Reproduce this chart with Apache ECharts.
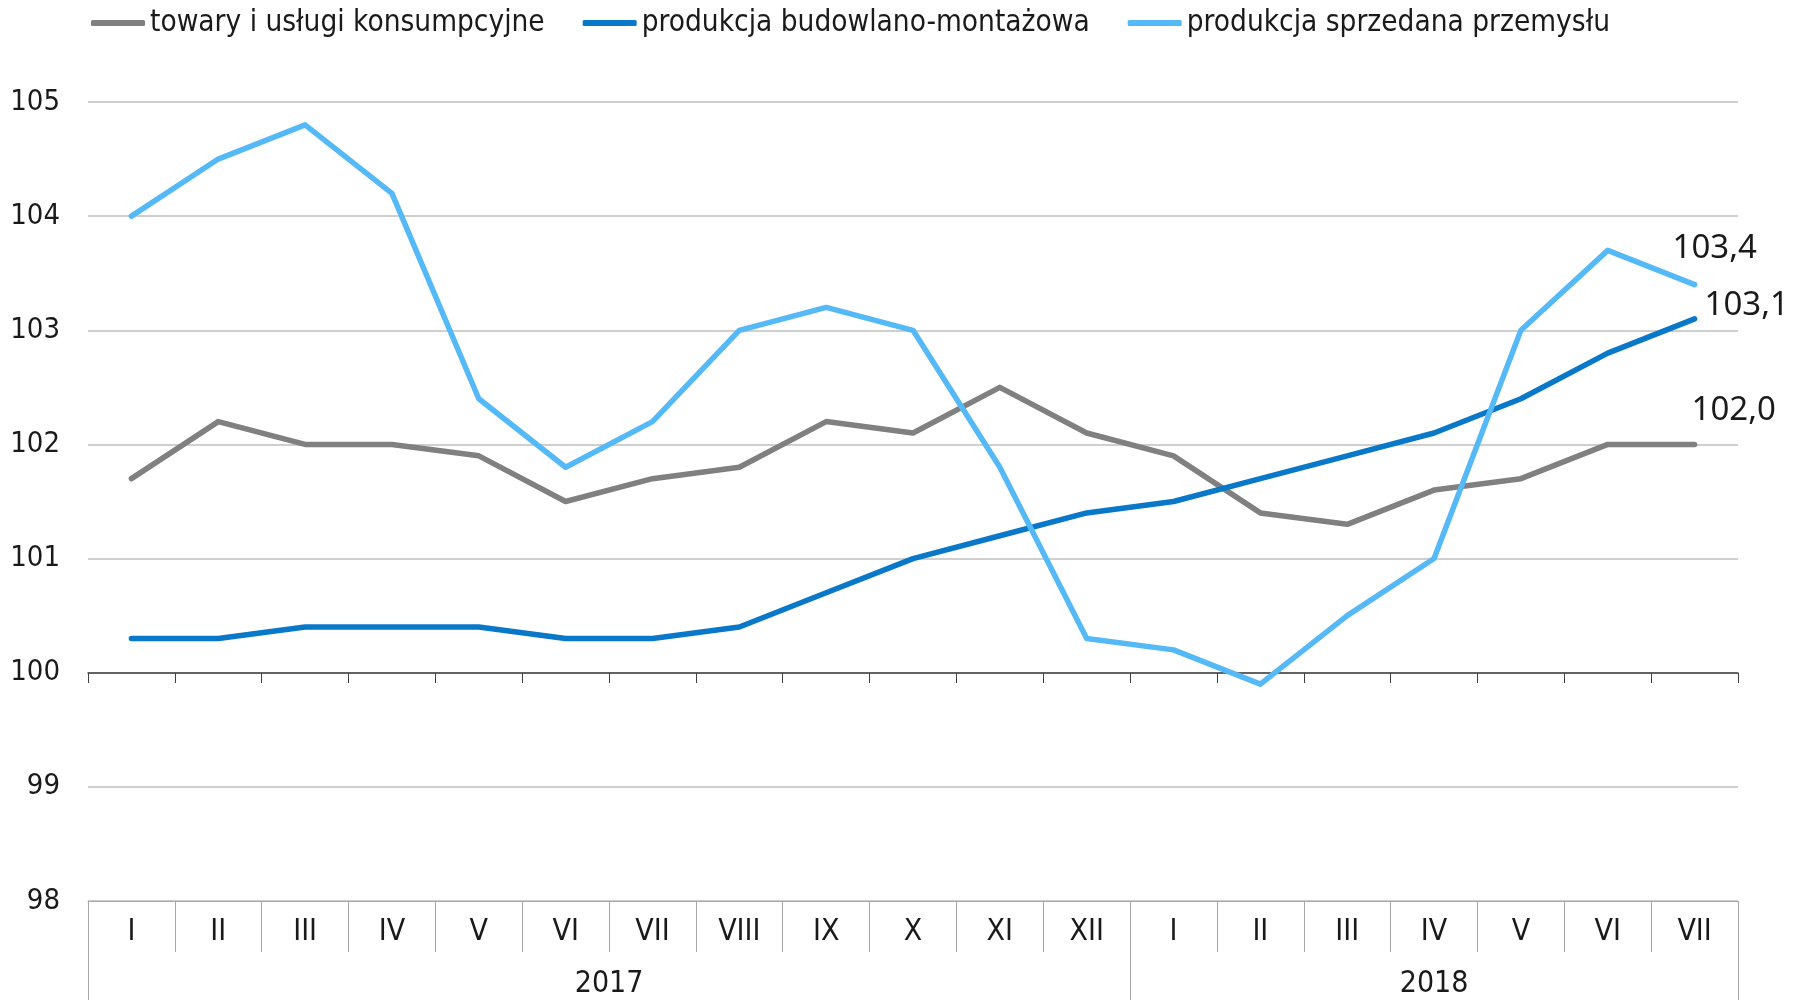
<!DOCTYPE html>
<html>
<head>
<meta charset="utf-8">
<script src="https://cdn.jsdelivr.net/npm/echarts@6/dist/echarts.min.js"></script>
<style>
html, body { margin: 0; padding: 0; background: #fff; }
#main { width: 1810px; height: 1000px; }
</style>
</head>
<body>
<div id="main"></div>
<script>
// dane
var months = ['I','II','III','IV','V','VI','VII','VIII','IX','X','XI','XII','I','II','III','IV','V','VI','VII'];
var years = ['2017', '2018'];
var yearCenters = [6, 15.5];   // srodki grup lat w jednostkach miesiecy
var yearBounds = [0, 12, 19];
var yTicks = [98, 99, 100, 101, 102, 103, 104, 105];

var towary = [101.7, 102.2, 102.0, 102.0, 101.9, 101.5, 101.7, 101.8, 102.2, 102.1, 102.5, 102.1, 101.9, 101.4, 101.3, 101.6, 101.7, 102.0, 102.0];
var budowlana = [100.3, 100.3, 100.4, 100.4, 100.4, 100.3, 100.3, 100.4, 100.7, 101.0, 101.2, 101.4, 101.5, 101.7, 101.9, 102.1, 102.4, 102.8, 103.1];
var przemysl = [104.0, 104.5, 104.8, 104.2, 102.4, 101.8, 102.2, 103.0, 103.2, 103.0, 101.8, 100.3, 100.2, 99.9, 100.5, 101.0, 103.0, 103.7, 103.4];

var names = ['towary i usługi konsumpcyjne', 'produkcja budowlano-montażowa', 'produkcja sprzedana przemysłu'];

var condensed = '"DejaVu Sans Condensed", "DejaVu Sans", sans-serif';

var myChart = echarts.init(document.getElementById('main'));

function fmt(p) {
    return p.value.toFixed(1).replace('.', ',');
}

// linie podzialu lat (co 0.5 -> 39 linii)
var splitColors = [];
for (var i = 0; i <= 38; i++) {
    splitColors.push(yearBounds.indexOf(i / 2) >= 0 ? '#a6a6a6' : 'rgba(0,0,0,0)');
}

var L = 88, R = 72;
var endLbl = { fontFamily: '"Noto Sans", sans-serif', fontSize: 33, color: '#1a1a1a' };

option = {
    animation: false,
    legend: {
        left: 86,
        top: 3,
        itemWidth: 54,
        itemHeight: 6,
        itemGap: 38,
        icon: 'roundRect',
        textStyle: { fontFamily: condensed, fontSize: 29.5, color: '#1a1a1a' },
        data: names
    },
    grid: [
        { left: L, right: R, top: 102, bottom: 99 },
        { left: L, right: R, top: 102, bottom: 327 },
        { left: L, right: R, top: 901, bottom: 0 }
    ],
    xAxis: [
        {
            type: 'category',
            gridIndex: 0,
            data: months,
            boundaryGap: true,
            axisLine: { lineStyle: { color: '#a6a6a6', width: 1 } },
            axisTick: { show: true, interval: 0, length: 51, lineStyle: { color: '#a6a6a6' } },
            axisLabel: { interval: 0, margin: 16, fontFamily: condensed, fontSize: 30, color: '#1a1a1a' },
            splitLine: { show: false }
        },
        {
            type: 'category',
            gridIndex: 1,
            data: months,
            boundaryGap: true,
            axisLine: { lineStyle: { color: '#404040', width: 1.5 } },
            axisTick: { show: true, interval: 0, length: 10, lineStyle: { color: '#404040' } },
            axisLabel: { show: false }
        },
        {
            type: 'value',
            gridIndex: 2,
            position: 'bottom',
            min: 0,
            max: 19,
            interval: 0.5,
            axisLine: { show: false },
            axisTick: { show: false },
            axisLabel: {
                inside: true,
                margin: 1,
                showMinLabel: true,
                showMaxLabel: true,
                fontFamily: condensed,
                fontSize: 30,
                color: '#1a1a1a',
                formatter: function (v) {
                    var k = yearCenters.indexOf(v);
                    return k >= 0 ? years[k] : '';
                }
            },
            splitLine: { show: true, lineStyle: { color: splitColors, width: 1 } }
        }
    ],
    yAxis: [
        {
            type: 'value',
            gridIndex: 0,
            min: yTicks[0],
            max: yTicks[yTicks.length - 1],
            interval: 1,
            axisLine: { show: false },
            axisTick: { show: false },
            axisLabel: { margin: 28, fontFamily: condensed, fontSize: 29, color: '#1a1a1a' },
            splitLine: { lineStyle: { color: '#bfbfbf', width: 1.5 } }
        },
        { type: 'value', gridIndex: 1, show: false },
        { type: 'value', gridIndex: 2, show: false }
    ],
    series: [
        {
            name: names[0],
            type: 'line',
            showSymbol: false,
            color: '#808080',
            lineStyle: { width: 5.5, cap: 'round', join: 'round' },
            endLabel: Object.assign({ show: true, formatter: fmt, offset: [-11, -34] }, endLbl),
            data: towary
        },
        {
            name: names[1],
            type: 'line',
            showSymbol: false,
            color: '#0a78c8',
            lineStyle: { width: 5.5, cap: 'round', join: 'round' },
            endLabel: Object.assign({ show: true, formatter: fmt, offset: [2, -13] }, endLbl),
            data: budowlana
        },
        {
            name: names[2],
            type: 'line',
            showSymbol: false,
            color: '#56b9f7',
            lineStyle: { width: 5.5, cap: 'round', join: 'round' },
            endLabel: Object.assign({ show: true, formatter: fmt, offset: [-30, -36] }, endLbl),
            data: przemysl
        }
    ]
};
myChart.setOption(option);

window.onresize = function () {
    myChart.resize();
};
</script>
</body>
</html>
